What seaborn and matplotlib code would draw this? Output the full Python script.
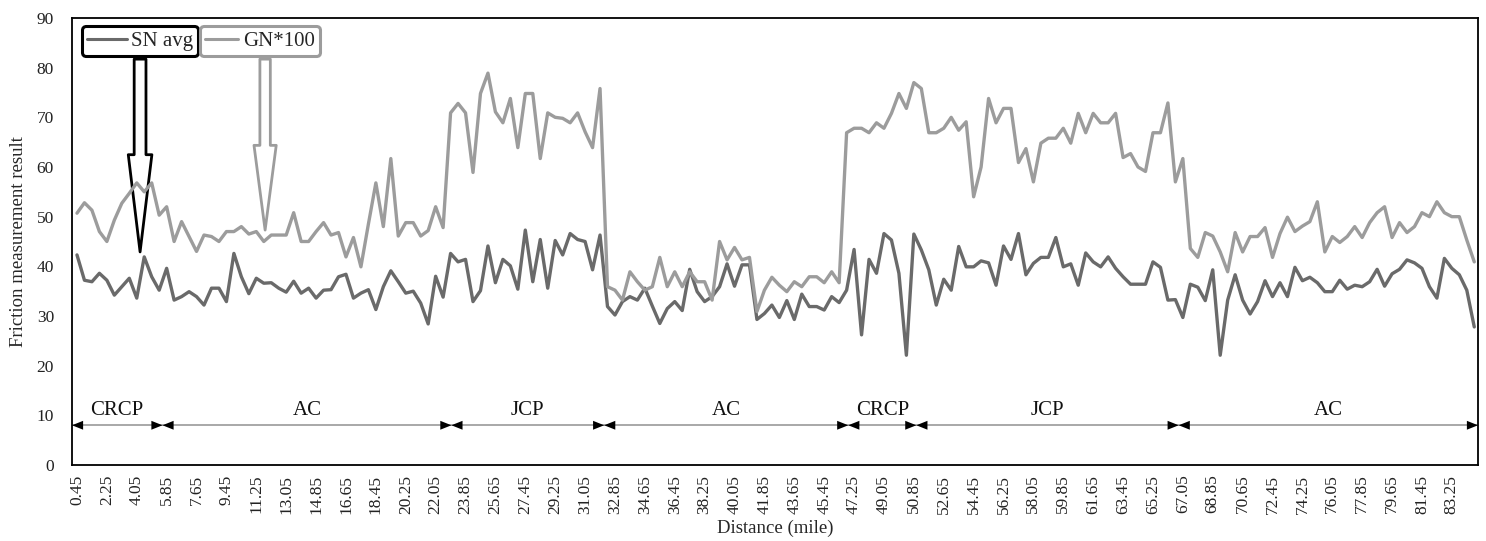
import numpy as np
import pandas as pd
import matplotlib
matplotlib.use('Agg')
import matplotlib.pyplot as plt
from matplotlib.lines import Line2D
import seaborn as sns

# friction readings, one every 0.45 mile
sn_avg = [
    42.3, 37.2, 36.9, 38.6, 37.2, 34.2, 35.9, 37.6, 33.6, 41.9, 37.9, 35.2,
    39.6, 33.2, 33.9, 34.9, 33.9, 32.2, 35.6, 35.6, 32.9, 42.6, 37.9, 34.5,
    37.6, 36.6, 36.7, 35.6, 34.8, 37.0, 34.6, 35.6, 33.6, 35.2, 35.3, 37.9,
    38.4, 33.6, 34.6, 35.3, 31.3, 35.9, 39.1, 36.9, 34.6, 35.0, 32.6, 28.4,
    38.0, 33.8, 42.6, 40.9, 41.4, 32.9, 35.1, 44.1, 36.7, 41.4, 40.1, 35.4,
    47.3, 36.9, 45.4, 35.6, 45.2, 42.3, 46.6, 45.4, 45.0, 39.3, 46.3, 31.9,
    30.2, 32.9, 33.9, 33.2, 35.6, 32.0, 28.5, 31.5, 32.9, 31.1, 39.4, 34.9,
    32.9, 33.9, 35.9, 40.5, 36.0, 40.3, 40.3, 29.3, 30.5, 32.2, 29.7, 33.1,
    29.3, 34.4, 31.9, 31.9, 31.2, 33.9, 32.7, 35.2, 43.4, 26.2, 41.4, 38.6,
    46.6, 45.3, 38.6, 22.1, 46.5, 43.3, 39.3, 32.2, 37.4, 35.2, 44.0, 39.9,
    39.9, 41.1, 40.7, 36.2, 44.1, 41.4, 46.6, 38.3, 40.6, 41.8, 41.8, 45.8,
    39.9, 40.5, 36.2, 42.7, 40.9, 39.9, 41.9, 39.6, 37.9, 36.4, 36.4, 36.4,
    40.9, 39.8, 33.2, 33.3, 29.7, 36.4, 35.8, 33.1, 39.3, 22.1, 33.2, 38.3,
    33.2, 30.4, 32.9, 37.1, 33.9, 36.7, 33.9, 39.8, 37.1, 37.8, 36.7, 34.9,
    34.9, 37.2, 35.4, 36.2, 35.9, 36.9, 39.4, 36.0, 38.5, 39.4, 41.3, 40.7,
    39.6, 35.9, 33.6, 41.6, 39.6, 38.3, 35.2, 27.8,
]
gn_100 = [
    50.7, 52.8, 51.3, 47.0, 45.0, 49.3, 52.7, 54.7, 56.8, 55.0, 56.8, 50.3,
    52.0, 45.0, 49.0, 46.0, 43.0, 46.3, 46.0, 45.0, 47.0, 47.0, 48.0, 46.5,
    47.0, 45.0, 46.3, 46.3, 46.3, 50.8, 45.0, 45.0, 47.0, 48.8, 46.3, 46.8,
    41.9, 45.8, 39.9, 48.5, 56.8, 48.0, 61.7, 46.1, 48.8, 48.8, 46.1, 47.2,
    52.0, 47.8, 70.9, 72.8, 70.9, 58.9, 74.8, 78.9, 71.1, 68.9, 73.8, 63.9,
    74.8, 74.8, 61.7, 70.9, 70.0, 69.8, 68.9, 70.9, 67.1, 63.9, 75.8, 35.9,
    35.2, 33.2, 38.9, 36.9, 35.2, 35.9, 41.8, 35.9, 38.9, 35.9, 38.9, 36.9,
    36.9, 33.2, 45.0, 41.3, 43.8, 41.3, 41.8, 30.9, 35.2, 37.8, 36.2, 34.9,
    36.9, 35.9, 37.9, 37.9, 36.7, 38.9, 36.7, 66.9, 67.8, 67.8, 66.9, 68.9,
    67.8, 70.8, 74.8, 71.8, 77.0, 75.8, 66.9, 66.9, 67.8, 70.0, 67.4, 69.1,
    54.0, 60.0, 73.8, 68.9, 71.8, 71.8, 60.9, 63.7, 57.0, 64.8, 65.8, 65.8,
    67.8, 64.8, 70.8, 66.9, 70.8, 68.9, 68.9, 70.8, 61.9, 62.7, 60.0, 59.1,
    66.9, 66.9, 72.9, 57.0, 61.7, 43.6, 41.8, 46.8, 46.1, 42.9, 38.9, 46.8,
    42.9, 46.0, 46.0, 47.8, 41.8, 46.6, 49.9, 47.0, 48.1, 49.0, 53.0, 42.9,
    46.0, 44.8, 46.0, 48.0, 45.8, 48.8, 50.8, 52.0, 45.8, 48.8, 46.8, 48.0,
    50.8, 50.0, 53.0, 50.8, 50.0, 50.0, 45.3, 40.9,
]
distance = np.round(0.45 * np.arange(1, len(sn_avg) + 1), 2)

# pavement sections along the route
seg_edges = [0.15, 5.6, 23.0, 32.2, 46.9, 51.0, 66.8, 84.825]
seg_names = ['CRCP', 'AC', 'JCP', 'AC', 'CRCP', 'JCP', 'AC']

SN_COLOR = '#6a6a6a'
GN_COLOR = '#9c9c9c'

sns.set_theme(style='white')
plt.rcParams['font.family'] = ['Liberation Serif', 'DejaVu Serif']

df = pd.DataFrame({'Distance': distance, 'SN avg': sn_avg, 'GN*100': gn_100})

fig = plt.figure(figsize=(14.86, 5.41), dpi=100)
ax = fig.add_axes([72 / 1486, 1 - 465 / 541, 1406 / 1486, 447 / 541])

sns.lineplot(data=df, x='Distance', y='SN avg', color=SN_COLOR, lw=2.4, ax=ax, zorder=3)
sns.lineplot(data=df, x='Distance', y='GN*100', color=GN_COLOR, lw=2.4, ax=ax, zorder=3)

ax.set_xlim(seg_edges[0], seg_edges[-1])
ax.set_ylim(0, 90)
ax.set_yticks(range(0, 91, 10))
ax.set_xticks(distance[::4])
ax.set_xticklabels([f'{v:.2f}' for v in distance[::4]], rotation=90)
ax.tick_params(axis='both', length=0, labelsize=12.5, colors='#222222')
ax.tick_params(axis='y', pad=13)
ax.tick_params(axis='x', pad=7)
for sp in ax.spines.values():
    sp.set_color('black')
    sp.set_linewidth(1.3)

ax.set_xlabel('Distance (mile)', fontsize=13.5, labelpad=4)
ax.set_ylabel('Friction measurement result', fontsize=13.5, labelpad=7)

# legend boxes with callout arrows
h_sn = Line2D([], [], color=SN_COLOR, lw=2.2)
h_gn = Line2D([], [], color=GN_COLOR, lw=2.2)
leg1 = ax.legend([h_sn], ['SN avg'], loc='upper left', bbox_to_anchor=(0.007, 0.982),
                 borderaxespad=0, fontsize=15, handlelength=1.9, handletextpad=0.2,
                 borderpad=0.25, framealpha=1, fancybox=True)
leg1.get_frame().set_edgecolor('black')
leg1.get_frame().set_linewidth(2.2)
ax.add_artist(leg1)
leg2 = ax.legend([h_gn], ['GN*100'], loc='upper left', bbox_to_anchor=(0.091, 0.982),
                 borderaxespad=0, fontsize=15, handlelength=1.6, handletextpad=0.2,
                 borderpad=0.25, framealpha=1, fancybox=True)
leg2.get_frame().set_edgecolor(GN_COLOR)
leg2.get_frame().set_linewidth(2.2)

ax.annotate('', xy=(4.25, 42.9), xytext=(4.25, 0.908), textcoords=('data', 'axes fraction'),
            arrowprops=dict(arrowstyle='simple,head_length=70,head_width=17,tail_width=8.5',
                            mutation_scale=1, fc='white', ec='black', lw=2,
                            shrinkA=0, shrinkB=0), zorder=2)
ax.annotate('', xy=(11.78, 47.3), xytext=(11.78, 0.908), textcoords=('data', 'axes fraction'),
            arrowprops=dict(arrowstyle='simple,head_length=61,head_width=16,tail_width=7.5',
                            mutation_scale=1, fc='white', ec=GN_COLOR, lw=2,
                            shrinkA=0, shrinkB=0), zorder=2)

# section dimension lines
ax.hlines(8, seg_edges[0], seg_edges[-1], color='#9a9a9a', lw=1.2, zorder=2)
for x0, x1, name in zip(seg_edges[:-1], seg_edges[1:], seg_names):
    ax.annotate('', xy=(x1, 8), xytext=(x0, 8),
                arrowprops=dict(arrowstyle='<|-|>,head_length=0.5,head_width=0.2',
                                mutation_scale=16, color='black', lw=0,
                                shrinkA=0, shrinkB=0), zorder=2)
    ax.text((x0 + x1) / 2, 9, name, ha='center', va='bottom', fontsize=15, color='#111111')

fig.savefig('out.png', dpi=100)
